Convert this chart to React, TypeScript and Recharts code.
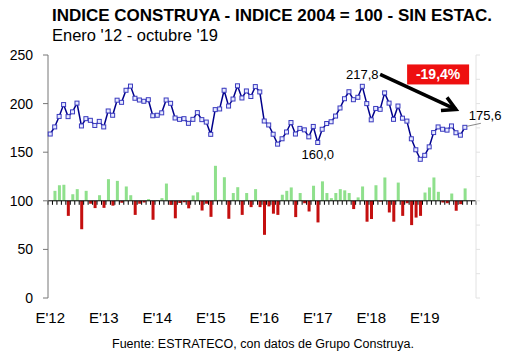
import React from 'react';
import { ComposedChart, Line, Bar, XAxis, YAxis, ReferenceLine, ReferenceDot } from 'recharts';

const years = [2012, 2013, 2014, 2015, 2016, 2017, 2018, 2019];
const yearLabels = ["E'12", "E'13", "E'14", "E'15", "E'16", "E'17", "E'18", "E'19"];

// Índice Construya (2004 = 100, sin estac.) Enero '12 - octubre '19
const indexValues = [
  168.7, 176.0, 186.8, 199.0, 186.6, 191.5, 200.5, 177.0, 184.5, 182.8, 177.5, 181.7,
  176.0, 192.4, 188.0, 203.5, 201.3, 213.7, 218.0, 205.5, 203.7, 202.4, 204.0, 187.5,
  188.0, 190.5, 203.7, 200.3, 185.2, 183.8, 184.5, 179.7, 183.8, 190.7, 183.5, 181.0,
  168.4, 193.8, 194.5, 213.7, 197.5, 204.7, 218.3, 205.8, 213.0, 207.3, 217.5, 212.0,
  182.1, 178.0, 168.5, 158.3, 163.8, 170.8, 180.5, 168.7, 174.5, 173.0, 165.8, 176.5,
  160.0, 173.6, 179.5, 181.3, 187.2, 195.5, 205.0, 212.2, 204.0, 206.5, 217.8, 200.0,
  183.3, 195.0, 194.1, 211.0, 200.5, 183.8, 197.5, 185.0, 182.0, 163.8, 152.5, 142.7,
  146.8, 155.5, 170.2, 176.0, 173.6, 172.7, 177.0, 170.0, 167.5, 175.6,
];

// Variación mensual (%)
const monthlyChange: (number | null)[] = [
  null, 4.1, 6.4, 6.6, -6.2, 2.7, 4.8, -11.7, 4.1, -1.2, -3.0, 2.3,
  -2.9, 8.9, -2.0, 8.2, -0.8, 5.9, 2.3, -5.8, -1.2, -0.7, 0.7, -7.8,
  0.3, 1.1, 7.1, -1.7, -7.2, -0.9, -0.6, -3.1, 2.2, 3.5, -4.0, -1.2,
  -6.6, 14.4, 0.4, 9.7, -7.4, 3.2, 5.6, -5.8, 3.2, -2.6, 4.8, -2.6,
  -14.0, -2.3, -5.3, -5.8, 2.5, 4.1, 5.5, -6.7, 3.2, -1.0, -4.4, 6.2,
  -8.9, 8.0, 3.2, 1.1, 3.2, 4.8, 4.3, 3.2, -3.4, 1.4, 5.9, -8.6,
  -7.5, 6.4, -0.3, 9.6, -4.8, -8.6, 7.5, -6.2, -1.0, -10.0, -6.9, -6.2,
  3.4, 5.5, 9.6, 3.7, -0.7, -1.0, 3.0, -4.1, -1.4, 5.1,
];

const leftTicks = [0, 50, 100, 150, 200, 250];
const rightTicks = [-40, -30, -20, -10, 0, 10, 20, 30, 40, 50, 60];
const baseValue = 100;

const peakIdx = 70;
const lowIdx = 60;
const lastIdx = 93;

const FONT = '"Liberation Sans", Arial, sans-serif';

const data: { m: string; idx: number | null; pct: number | null }[] = [];
years.forEach((yr, yi) => {
  for (let mo = 0; mo < 12; mo++) {
    const i = yi * 12 + mo;
    data.push({
      m: `${yr}-${String(mo + 1).padStart(2, '0')}`,
      idx: i < indexValues.length ? indexValues[i] : null,
      pct: i < monthlyChange.length ? monthlyChange[i] : null,
    });
  }
});
const januaryKeys = years.map((yr) => `${yr}-01`);

const fmt = (v: number) => v.toFixed(1).replace('.', ',');
const totalChange = (indexValues[lastIdx] / indexValues[peakIdx] - 1) * 100;
const changeLabel = `${fmt(totalChange)}%`;

const renderDot = (p: any) => {
  const { cx, cy, index, value } = p;
  if (cx == null || cy == null || value == null) return <g key={`d${index}`} />;
  const els: React.ReactNode[] = [
    <rect key="r" x={cx - 2} y={cy - 2} width={4} height={4} fill="#e6eaff" stroke="#3a3abf" strokeWidth={1} />,
  ];
  if (index === peakIdx) {
    els.push(
      <text key="t" x={cx} y={cy - 7} textAnchor="middle" fontSize={13} fontFamily={FONT} fill="#000">
        {fmt(value)}
      </text>
    );
  }
  if (index === lowIdx) {
    els.push(
      <text key="t" x={cx} y={cy + 17} textAnchor="middle" fontSize={13} fontFamily={FONT} fill="#000">
        {fmt(value)}
      </text>
    );
  }
  if (index === lastIdx) {
    els.push(<line key="l" x1={cx + 2} y1={cy - 1} x2={cx + 16} y2={cy - 4} stroke="#888" strokeWidth={1} />);
    els.push(
      <text key="t" x={cx + 4} y={cy - 7} textAnchor="start" fontSize={13} fontFamily={FONT} fill="#000">
        {fmt(value)}
      </text>
    );
  }
  return <g key={`d${index}`}>{els}</g>;
};

const renderBar = (p: any) => {
  const { x, y, width, height, index, payload } = p;
  const v = payload ? payload.pct : null;
  if (v == null || x == null) return <g />;
  const top = Math.min(y, y + height);
  const h = Math.abs(height);
  return (
    <g>
      <rect x={x} y={top} width={width} height={h} fill={v >= 0 ? '#8fe08c' : '#c40f0f'} />
      {index === lastIdx ? (
        <text x={x + width / 2} y={top - 5} textAnchor="middle" fontSize={13} fontFamily={FONT} fill="#000">
          {`${fmt(v)}%`}
        </text>
      ) : null}
    </g>
  );
};

const renderBaseline = (p: any) => {
  const { x1, x2, y1 } = p;
  const n = data.length;
  const step = (x2 - x1) / n;
  const ticks = [];
  for (let k = 0; k <= n; k++) {
    const tx = x1 + k * step;
    ticks.push(<line key={k} x1={tx} y1={y1} x2={tx} y2={y1 + 4} stroke="#000" strokeWidth={1} />);
  }
  return (
    <g>
      <line x1={x1} y1={y1} x2={x2} y2={y1} stroke="#000" strokeWidth={1} />
      {ticks}
    </g>
  );
};

const renderArrow = (p: any) => {
  const { x1, y1, x2, y2 } = p;
  const ang = Math.atan2(y2 - y1, x2 - x1);
  const L = 15;
  const a1 = ang + Math.PI - 0.5;
  const a2 = ang + Math.PI + 0.5;
  return (
    <g>
      <line x1={x1} y1={y1} x2={x2} y2={y2} stroke="#000" strokeWidth={3.5} />
      <polyline
        points={`${x2 + L * Math.cos(a1)},${y2 + L * Math.sin(a1)} ${x2},${y2} ${x2 + L * Math.cos(a2)},${y2 + L * Math.sin(a2)}`}
        fill="none"
        stroke="#000"
        strokeWidth={3.5}
      />
    </g>
  );
};

const renderBox = (p: any) => {
  const { cx, cy } = p;
  return (
    <g>
      <rect x={cx - 31} y={cy - 10} width={62} height={20} fill="#ee1010" />
      <text x={cx} y={cy + 5} textAnchor="middle" fontSize={14} fontWeight="bold" fontFamily={FONT} fill="#fff">
        {changeLabel}
      </text>
    </g>
  );
};

export default function App() {
  return (
    <div style={{ position: 'absolute', left: 0, top: 0, width: 530, height: 355, background: '#fff', fontFamily: FONT }}>
      <div style={{ position: 'absolute', left: 52, top: 5, fontSize: 17, lineHeight: '22px', fontWeight: 'bold', whiteSpace: 'nowrap', color: '#000' }}>
        INDICE CONSTRUYA - INDICE 2004 = 100 - SIN ESTAC.
      </div>
      <div style={{ position: 'absolute', left: 52, top: 25, fontSize: 16.5, lineHeight: '20px', whiteSpace: 'nowrap', color: '#000' }}>
        Enero '12 - octubre '19
      </div>
      <ComposedChart width={530} height={355} data={data} margin={{ top: 55, right: 0, bottom: 0, left: 0 }}>
        <XAxis
          dataKey="m"
          ticks={januaryKeys}
          interval={0}
          tickFormatter={(v: string) => yearLabels[januaryKeys.indexOf(v)] ?? ''}
          axisLine={false}
          tickLine={false}
          tickSize={6}
          tickMargin={8}
          height={57}
          tick={{ fontSize: 15, fill: '#000', fontFamily: FONT }}
        />
        <YAxis
          yAxisId="left"
          domain={[0, 250]}
          ticks={leftTicks}
          width={48}
          stroke="#777"
          tickSize={5}
          tickMargin={10}
          tick={{ fontSize: 14, fill: '#000', fontFamily: FONT }}
          allowDataOverflow
        />
        <YAxis
          yAxisId="right"
          orientation="right"
          domain={[-40, 60]}
          ticks={rightTicks}
          width={54}
          stroke="#e2e2e2"
          tickSize={4}
          tickFormatter={() => ''}
          allowDataOverflow
        />
        <Bar yAxisId="right" dataKey="pct" barSize={3} shape={renderBar} isAnimationActive={false} />
        <ReferenceLine yAxisId="left" y={baseValue} shape={renderBaseline} />
        <Line
          yAxisId="left"
          dataKey="idx"
          stroke="#00008b"
          strokeWidth={1.5}
          dot={renderDot}
          activeDot={false}
          isAnimationActive={false}
        />
        <ReferenceLine
          yAxisId="left"
          segment={[{ x: data[74].m, y: 230 }, { x: data[91].m, y: 194 }]}
          shape={renderArrow}
        />
        <ReferenceDot yAxisId="left" x={data[87].m} y={230} shape={renderBox} />
      </ComposedChart>
      <div style={{ position: 'absolute', left: 112, top: 336, fontSize: 12.5, lineHeight: '16px', whiteSpace: 'nowrap', color: '#000' }}>
        Fuente: ESTRATECO, con datos de Grupo Construya.
      </div>
    </div>
  );
}
